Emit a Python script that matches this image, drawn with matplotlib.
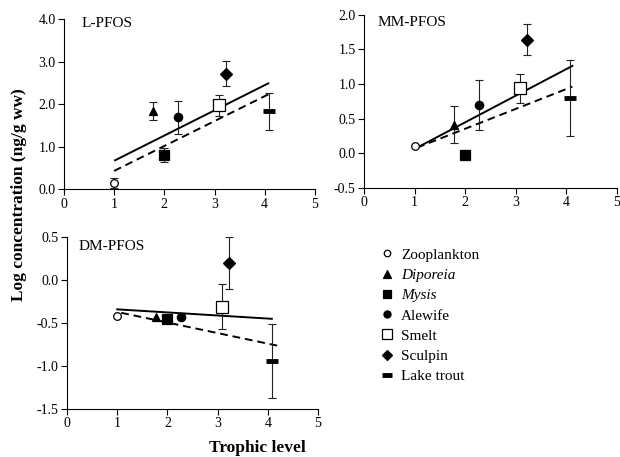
import numpy as np
import matplotlib
matplotlib.use("Agg")
import matplotlib.pyplot as plt
from matplotlib.lines import Line2D

plt.rcParams["font.family"] = ["Liberation Serif", "DejaVu Serif"]

species = ["Zooplankton", "Diporeia", "Mysis", "Alewife", "Smelt", "Sculpin", "Lake trout"]
trophic = [1.0, 1.78, 2.0, 2.28, 3.08, 3.23, 4.08]

# log concentration (ng/g ww) and error bar half-widths per panel
lpfos = [0.15, 1.84, 0.81, 1.69, 1.97, 2.72, 1.83]
lpfos_err = [0.12, 0.22, 0.17, 0.38, 0.24, 0.29, 0.43]
mmpfos = [0.11, 0.41, -0.03, 0.69, 0.94, 1.64, 0.80]
mmpfos_err = [0.0, 0.27, 0.07, 0.36, 0.21, 0.22, 0.55]
dmpfos = [-0.42, -0.43, -0.45, -0.43, -0.31, 0.20, -0.94]
dmpfos_err = [0.0, 0.0, 0.0, 0.0, 0.26, 0.30, 0.43]

# regression lines (x endpoints, y endpoints): solid and dashed
lpfos_solid = ([1.02, 4.07], [0.68, 2.49])
lpfos_dash = ([1.0, 4.07], [0.43, 2.23])
mmpfos_solid = ([1.05, 4.12], [0.08, 1.26])
mmpfos_dash = ([1.05, 4.12], [0.08, 0.96])
dmpfos_solid = ([1.0, 4.08], [-0.34, -0.45])
dmpfos_dash = ([1.08, 4.25], [-0.38, -0.77])

styles = {
    "Zooplankton": dict(marker="o", ms=5.5, mfc="white"),
    "Diporeia": dict(marker="^", ms=6, mfc="black"),
    "Mysis": dict(marker="s", ms=7, mfc="black"),
    "Alewife": dict(marker="o", ms=6, mfc="black"),
    "Smelt": dict(marker="s", ms=8.5, mfc="white"),
    "Sculpin": dict(marker="D", ms=6, mfc="black"),
    "Lake trout": dict(marker="_", ms=9, mew=3.5, mfc="black"),
}

fig = plt.figure(figsize=(6.2, 4.57), dpi=100)

panels = [
    ("L-PFOS", [0.103, 0.586, 0.405, 0.372], lpfos, lpfos_err, lpfos_solid, lpfos_dash,
     (0.0, 4.0), np.arange(0, 4.01, 1.0), (0.07, 0.976)),
    ("MM-PFOS", [0.587, 0.589, 0.408, 0.379], mmpfos, mmpfos_err, mmpfos_solid, mmpfos_dash,
     (-0.5, 2.0), np.arange(-0.5, 2.01, 0.5), (0.055, 0.955)),
    ("DM-PFOS", [0.108, 0.105, 0.405, 0.376], dmpfos, dmpfos_err, dmpfos_solid, dmpfos_dash,
     (-1.5, 0.5), np.arange(-1.5, 0.51, 0.5), (0.048, 0.944)),
]

for title, rect, vals, errs, solid, dash, ylim, yticks, tpos in panels:
    ax = fig.add_axes(rect)
    ax.plot(*solid, color="black", lw=1.4, zorder=2)
    ax.plot(*dash, color="black", lw=1.4, ls=(0, (4, 2.5)), zorder=2)
    for name, x, y, e in zip(species, trophic, vals, errs):
        st = dict(styles[name])
        mew = st.pop("mew", 0.9)
        if e > 0:
            ax.errorbar(x, y, yerr=e, fmt="none", ecolor="#222222", elinewidth=0.8,
                        capsize=3, capthick=0.8, zorder=3)
        ax.plot(x, y, ls="none", mec="black", mew=mew, zorder=4, **st)
    ax.set_xlim(0, 5)
    ax.set_ylim(*ylim)
    ax.set_xticks(range(6))
    ax.set_yticks(yticks)
    ax.set_yticklabels([f"{t:.1f}" for t in yticks])
    for s in ["top", "right"]:
        ax.spines[s].set_visible(False)
    ax.tick_params(labelsize=10, length=4, width=0.8, direction="out", pad=2)
    ax.text(*tpos, title, transform=ax.transAxes, fontsize=11, va="center", ha="left")

handles = []
for name in species:
    st = dict(styles[name])
    mew = st.pop("mew", 0.9)
    st["ms"] = st["ms"] * 0.85
    handles.append(Line2D([], [], ls="none", mec="black", mew=mew, **st))
leg = fig.legend(handles, species, loc="upper left", bbox_to_anchor=(0.6, 0.474),
                 frameon=False, fontsize=11, labelspacing=0.43, handlelength=1.0,
                 handletextpad=0.4, borderpad=0)
for t in leg.get_texts():
    if t.get_text() in ("Diporeia", "Mysis"):
        t.set_fontstyle("italic")

fig.text(0.03, 0.575, "Log concentration (ng/g ww)", rotation=90, fontsize=12.5,
         fontweight="bold", ha="center", va="center")
fig.text(0.415, 0.02, "Trophic level", fontsize=12.5, fontweight="bold",
         ha="center", va="center")

fig.savefig("out.png", dpi=100)
